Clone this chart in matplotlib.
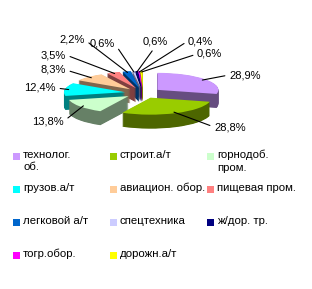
import numpy as np
import matplotlib
matplotlib.use("Agg")
import matplotlib.pyplot as plt
from matplotlib.colors import to_rgb
from matplotlib.patches import Rectangle

plt.rcParams['font.family'] = ['Liberation Sans', 'DejaVu Sans']

# data
categories = ["технолог.\nоб.", "строит.а/т", "горнодоб.\nпром.", "грузов.а/т",
              "авиацион. обор.", "пищевая пром.", "легковой а/т", "спецтехника",
              "ж/дор. тр.", "тогр.обор.", "дорожн.а/т"]
shares = [28.9, 28.8, 13.8, 12.4, 8.3, 3.5, 2.2, 0.6, 0.6, 0.4, 0.6]
pct_labels = ["28,9%", "28,8%", "13,8%", "12,4%", "8,3%", "3,5%", "2,2%",
              "0,6%", "0,6%", "0,4%", "0,6%"]
colors = ["#CC99FF", "#99CC00", "#CCFFCC", "#00FFFF", "#FFCC99", "#FF8080",
          "#0066CC", "#CCCCFF", "#000080", "#FF00FF", "#FFFF00"]

# layout (figure pixels)
W, H = 312, 289
cx, cy = 143, 93          # pie centre
sx, sy = 61, 17           # pixels per unit (x, y) -> squashed ellipse
explode = 0.3
depth = 14 / sy
# where each percentage label sits (px) and which side the line joins
label_pos = [(229, 75), (214, 127), (64, 121), (56, 88), (66, 70), (66, 55),
             (85, 40), (115, 44), (155, 47), (188, 41), (197, 54)]
label_side = ['l', 'l', 'r', 'r', 'r', 'r', 'r', 'r', 'c', 'l', 'l']


def px2d(px, py):
    return (px - cx) / sx, (cy - py) / sy


fig = plt.figure(figsize=(W / 100, H / 100), dpi=100)
ax = fig.add_axes([0, 0, 1, 1])

# side walls: stacked darker layers
side_cols = [tuple(np.array(to_rgb(c)) * 0.5) for c in colors]
n_layers = 28
for k in range(n_layers, 0, -1):
    off = depth * k / n_layers
    ax.pie(shares, colors=side_cols, startangle=90, counterclock=False,
           explode=[explode] * len(shares), radius=1, center=(0, -off),
           wedgeprops=dict(linewidth=0))

# top surface
ax.pie(shares, colors=colors, startangle=90, counterclock=False,
       explode=[explode] * len(shares), radius=1, center=(0, 0),
       wedgeprops=dict(linewidth=0))

ax.set_aspect('auto')
ax.set_xlim(px2d(0, 0)[0], px2d(W, 0)[0])
ax.set_ylim(px2d(0, H)[1], px2d(0, 0)[1])
ax.axis('off')

# percentage labels with leader lines
total = sum(shares)
cum = 0
for v, txt, pos, side in zip(shares, pct_labels, label_pos, label_side):
    mid = np.deg2rad(90 - 360 * (cum + v / 2) / total)
    cum += v
    r = 1 + explode
    anchor = (r * np.cos(mid) * 0.95, r * np.sin(mid) * 0.95)
    ha = {'l': 'left', 'r': 'right', 'c': 'center'}[side]
    relpos = {'l': (0, 0.5), 'r': (1, 0.5), 'c': (0.5, 0)}[side]
    ax.annotate(txt, xy=anchor, xytext=px2d(*pos), ha=ha,
                va='center' if side != 'c' else 'bottom',
                fontsize=8, color='black',
                arrowprops=dict(arrowstyle='-', color='black', lw=0.8,
                                relpos=relpos, shrinkA=1, shrinkB=0))

# legend drawn as a grid
col_x = [13, 110, 207]
row_y = [156, 189, 222, 255]
for i, (name, c) in enumerate(zip(categories, colors)):
    mx = col_x[i % 3]
    my = row_y[i // 3]
    fig.patches.append(Rectangle((mx / W, 1 - (my + 3.5) / H), 7 / W, 7 / H,
                                 transform=fig.transFigure, facecolor=c,
                                 edgecolor='none'))
    fig.text((mx + 10) / W, 1 - (my - 6) / H, name, fontsize=8.2,
             ha='left', va='top', linespacing=1.3)

fig.savefig("out.png", dpi=100)
